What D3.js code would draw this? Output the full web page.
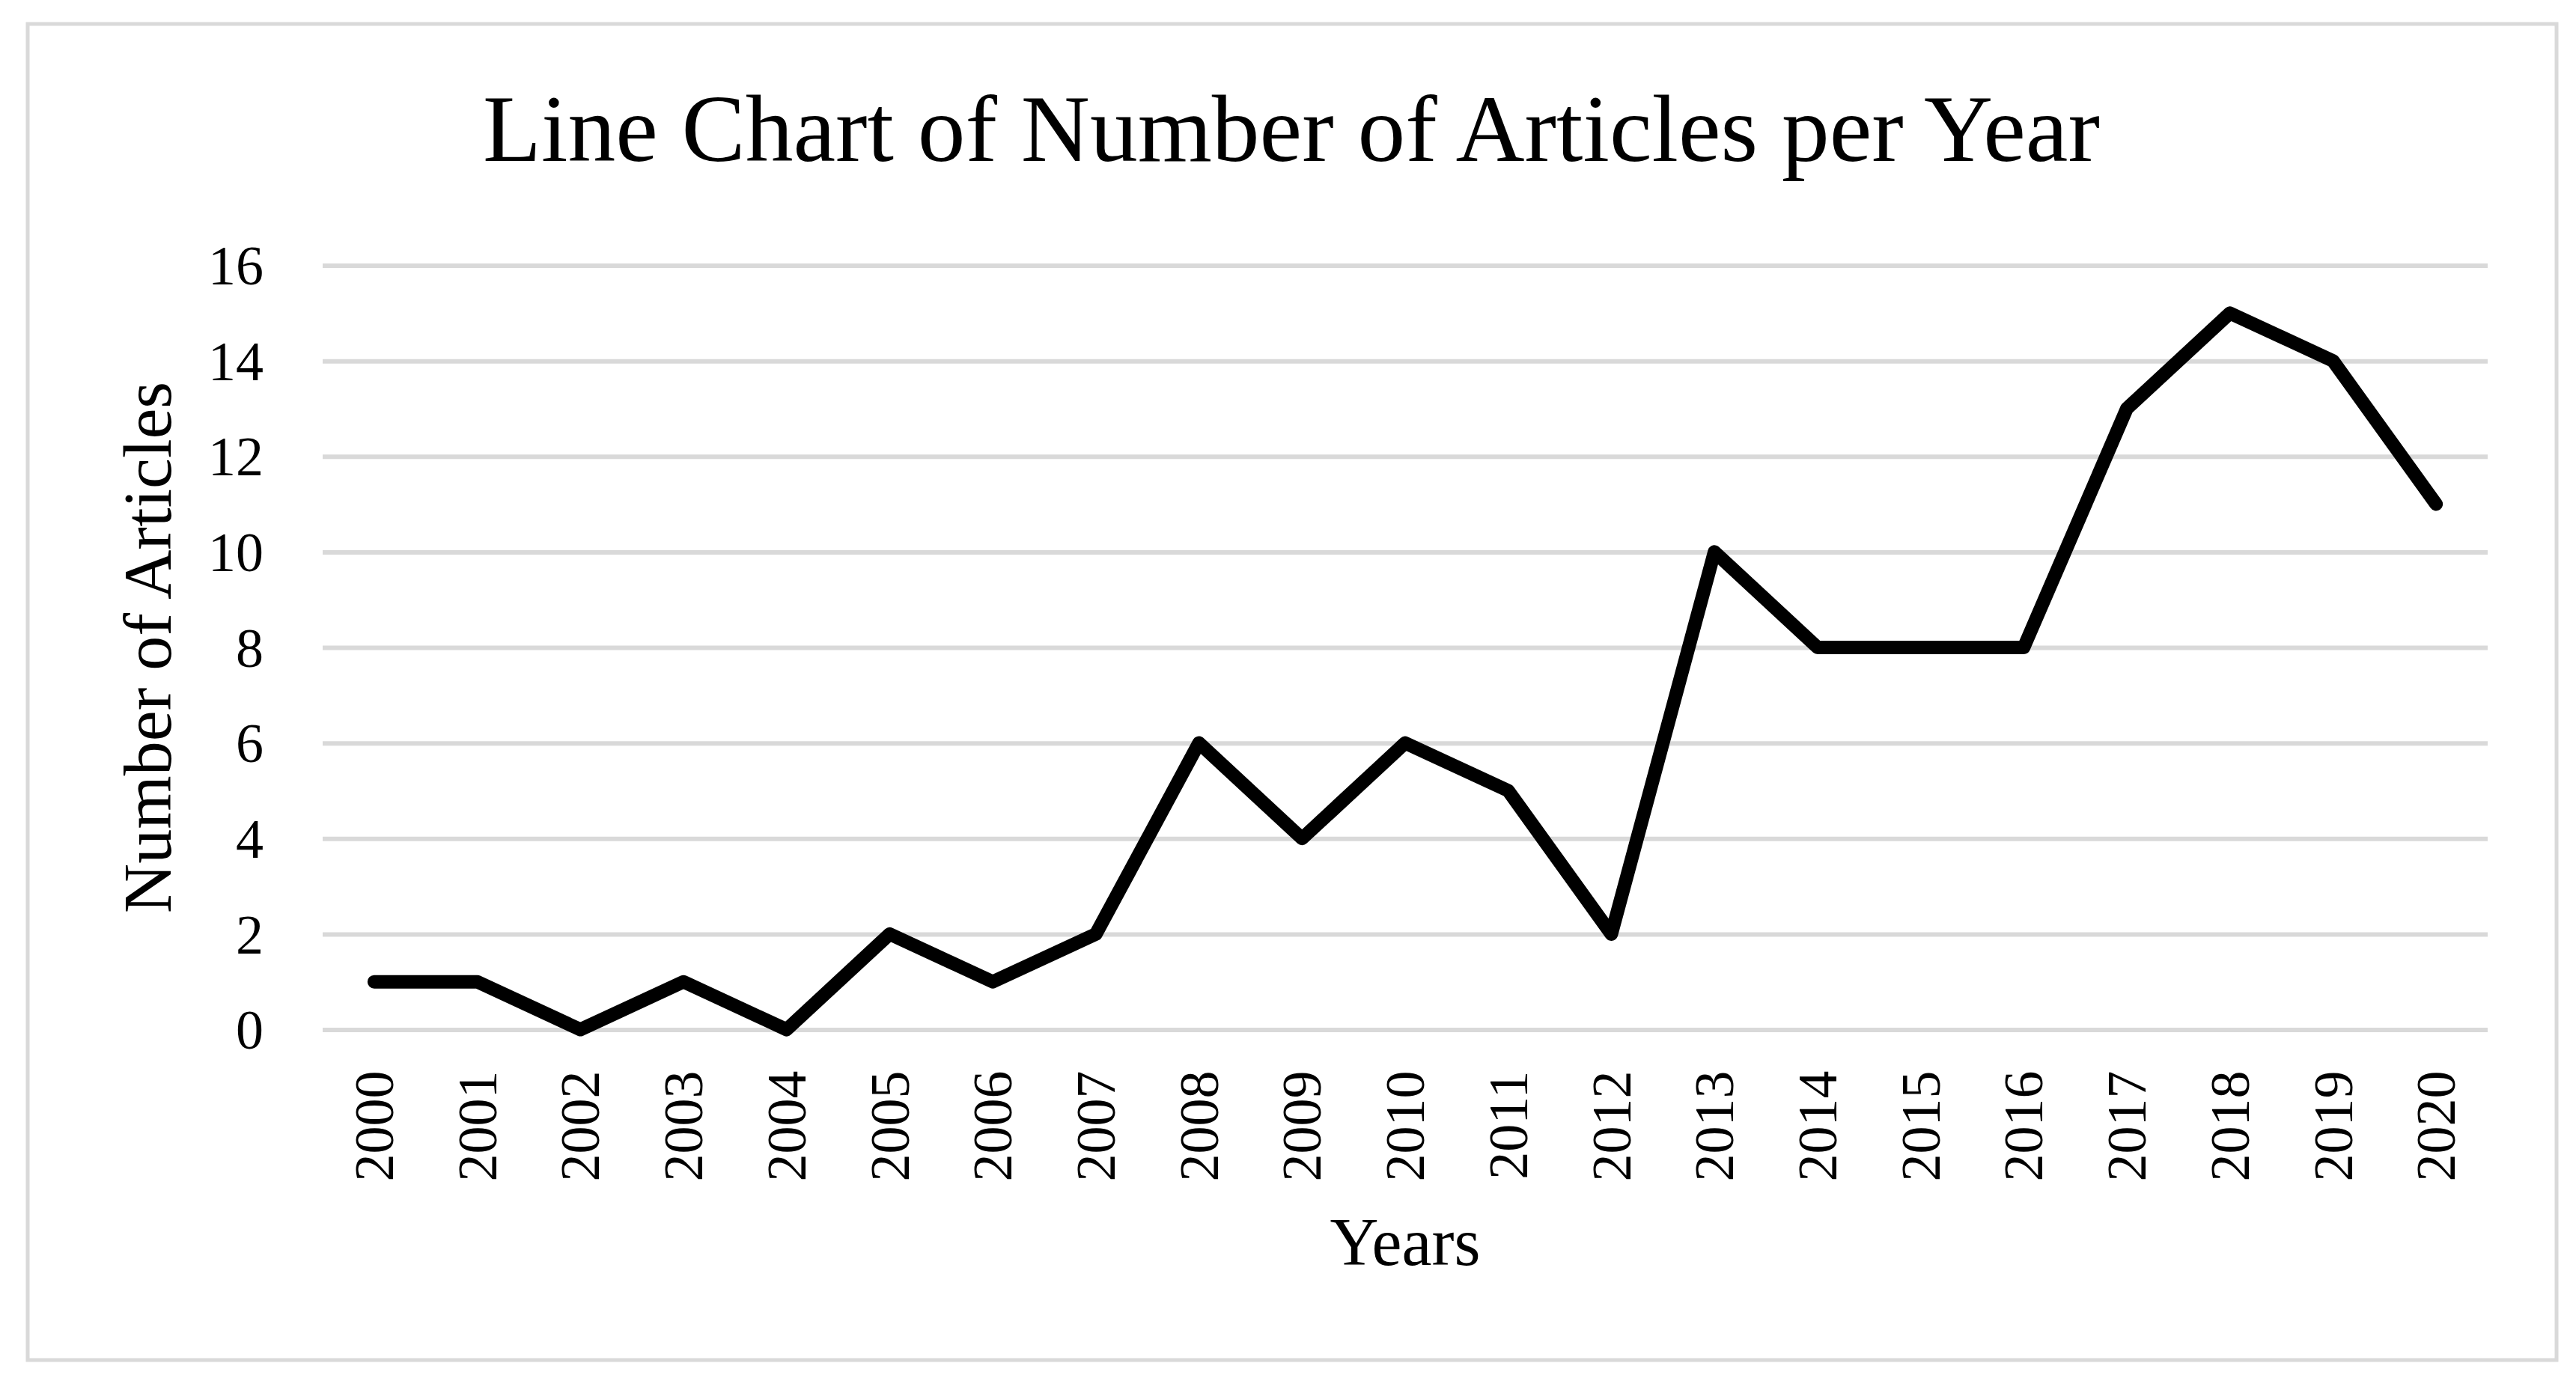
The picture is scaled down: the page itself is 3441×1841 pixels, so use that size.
<!DOCTYPE html>
<html>
<head>
<meta charset="utf-8">
<script src="https://cdn.jsdelivr.net/npm/d3@7"></script>
<style>
    body { margin: 0; background: #fff; }
    text { font-family: "Liberation Serif", "Times New Roman", serif; fill: #000; }
</style>
</head>
<body>
<svg width="3441" height="1841"></svg>
<script>
// Data
const YEARS = ["2000", "2001", "2002", "2003", "2004", "2005", "2006", "2007", "2008", "2009", "2010",
    "2011", "2012", "2013", "2014", "2015", "2016", "2017", "2018", "2019", "2020"];
const ARTICLES = [1, 1, 0, 1, 0, 2, 1, 2, 6, 4, 6, 5, 2, 10, 8, 8, 8, 13, 15, 14, 11];
const Y_TICKS = [0, 2, 4, 6, 8, 10, 12, 14, 16];

// Chart constants
const svg = d3.select("svg");
const plot = { left: 431, right: 3323, top: 354.5, bottom: 1375.5 };

// Outer border
svg.append("rect")
    .attr("x", 37).attr("y", 32)
    .attr("width", 3378).attr("height", 1785)
    .attr("fill", "white")
    .attr("stroke", "#d9d9d9")
    .attr("stroke-width", 5);

// Scales
const x = d3.scaleBand().domain(YEARS).range([plot.left, plot.right]);
const y = d3.scaleLinear().domain([0, 16]).range([plot.bottom, plot.top]);

// Gridlines + y labels
const yAxis = svg.append("g")
    .attr("transform", `translate(${plot.left},0)`)
    .call(d3.axisLeft(y).tickValues(Y_TICKS).tickSize(-(plot.right - plot.left)).tickPadding(79));
yAxis.select(".domain").remove();
yAxis.selectAll(".tick line").attr("stroke", "#d9d9d9").attr("stroke-width", 6);
yAxis.selectAll(".tick text")
    .style("font-family", "Liberation Serif")
    .attr("font-size", 74)
    .attr("dy", "0.34em");

// x labels (rotated)
const xAxis = svg.append("g")
    .attr("transform", `translate(0,${plot.bottom})`)
    .call(d3.axisBottom(x).tickSize(0));
xAxis.select(".domain").remove();
xAxis.selectAll(".tick text")
    .style("font-family", "Liberation Serif")
    .attr("font-size", 74)
    .attr("transform", "rotate(-90)")
    .attr("text-anchor", "end")
    .attr("x", -55)
    .attr("y", 0)
    .attr("dy", "0.34em");

// Line
const line = d3.line()
    .x((d, i) => x(YEARS[i]) + x.bandwidth() / 2)
    .y((d) => y(d));

svg.append("path")
    .datum(ARTICLES)
    .attr("fill", "none")
    .attr("stroke", "#000")
    .attr("stroke-width", 18)
    .attr("stroke-linecap", "round")
    .attr("stroke-linejoin", "round")
    .attr("d", line);

// Titles
svg.append("text")
    .attr("x", 1725).attr("y", 215)
    .attr("text-anchor", "middle")
    .attr("font-size", 127.5)
    .text("Line Chart of Number of Articles per Year");

svg.append("text")
    .attr("x", (plot.left + plot.right) / 2).attr("y", 1690)
    .attr("text-anchor", "middle")
    .attr("font-size", 90)
    .text("Years");

svg.append("text")
    .attr("transform", `translate(228,${(plot.top + plot.bottom) / 2}) rotate(-90)`)
    .attr("text-anchor", "middle")
    .attr("font-size", 92)
    .text("Number of Articles");
</script>
</body>
</html>
